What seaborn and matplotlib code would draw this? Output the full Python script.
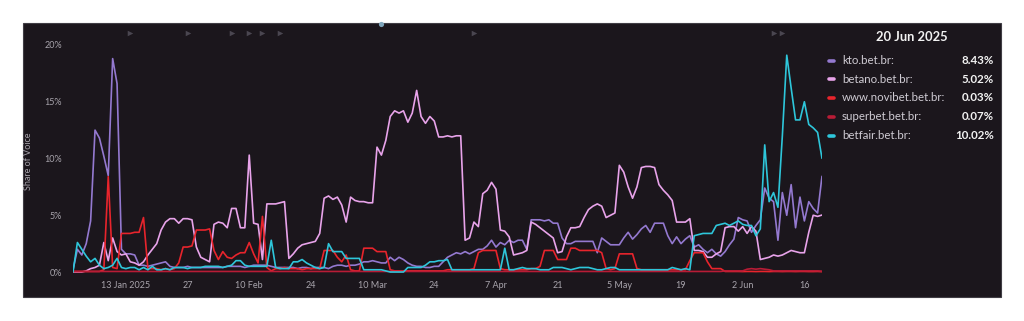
import numpy as np
import pandas as pd
import matplotlib
matplotlib.use("Agg")
import matplotlib.pyplot as plt
import matplotlib.dates as mdates
from matplotlib.patches import Rectangle
from matplotlib.lines import Line2D
import seaborn as sns

# ---------------- data ----------------
dates = pd.date_range("2025-01-01", "2025-06-20", freq="D")

sites = ["kto.bet.br", "betano.bet.br", "www.novibet.bet.br", "superbet.bet.br", "betfair.bet.br"]
colors = ["#9479d0", "#e8a3ea", "#e8242c", "#b81c36", "#2ec6da"]

kto = [
    0.2, 2.0, 1.5, 2.5, 4.5, 12.5, 11.8, 10.2, 8.5, 18.8,
    16.6, 2.0, 1.6, 1.6, 1.5, 0.6, 0.6, 0.5, 0.6, 0.7,
    0.8, 0.9, 0.5, 0.4, 0.4, 0.4, 0.5, 0.4, 0.4, 0.4,
    0.4, 0.4, 0.4, 0.4, 0.4, 0.5, 0.5, 0.5, 0.5, 0.4,
    0.5, 0.6, 0.6, 0.6, 0.6, 0.5, 0.4, 0.4, 0.4, 0.4,
    0.4, 0.3, 0.4, 0.4, 0.3, 0.4, 0.4, 0.4, 0.3, 0.5,
    0.6, 0.6, 0.5, 0.6, 0.6, 0.7, 0.9, 0.9, 1.0, 0.9,
    0.8, 0.8, 1.3, 1.0, 1.3, 1.1, 0.8, 0.6, 0.5, 0.5,
    0.4, 0.4, 0.5, 0.5, 0.9, 1.3, 1.5, 1.7, 1.6, 1.8,
    1.6, 1.8, 2.0, 2.0, 2.3, 2.8, 2.2, 2.6, 2.4, 2.8,
    2.6, 2.8, 2.8, 2.0, 4.6, 4.6, 4.6, 4.5, 4.6, 4.3,
    4.3, 3.0, 2.5, 2.5, 2.7, 2.7, 2.7, 2.7, 2.7, 1.7,
    3.0, 2.7, 2.4, 2.4, 2.4, 3.0, 3.5, 2.9, 3.3, 3.8,
    4.1, 3.5, 4.3, 4.3, 4.3, 3.2, 2.5, 3.1, 2.5, 2.9,
    3.2, 2.2, 2.4, 2.0, 1.7, 2.0, 1.6, 1.4, 1.8, 2.4,
    2.9, 4.8, 4.6, 4.5, 3.5, 4.1, 4.6, 7.4, 6.5, 6.2,
    2.8, 7.0, 5.0, 7.7, 3.9, 6.6, 4.5, 6.2, 5.6, 5.2,
    8.43,
]

betano = [
    0.0, 0.0, 0.0, 0.1, 0.3, 0.4, 0.6, 2.6, 1.0, 3.0,
    1.8, 1.5, 1.6, 0.9, 0.8, 0.6, 0.9, 1.5, 2.0, 2.5,
    3.7, 4.4, 4.7, 4.7, 4.3, 4.7, 4.7, 4.6, 2.2, 1.3,
    1.1, 0.9, 4.2, 4.4, 4.3, 3.9, 5.6, 5.6, 3.9, 3.9,
    10.3, 4.3, 4.2, 1.1, 6.0, 6.0, 6.0, 6.1, 6.2, 1.2,
    1.6, 2.1, 2.4, 2.5, 2.6, 2.7, 3.4, 6.5, 6.7, 6.4,
    6.6, 5.9, 4.4, 6.6, 6.3, 6.2, 6.2, 6.1, 6.1, 11.0,
    10.3, 11.6, 13.7, 14.2, 14.0, 14.2, 13.2, 14.0, 16.0, 13.7,
    13.1, 13.7, 13.3, 11.9, 11.9, 12.0, 11.9, 12.0, 12.0, 2.8,
    3.0, 4.4, 4.0, 6.9, 7.2, 7.9, 7.3, 3.7, 3.6, 3.1,
    1.5, 1.6, 1.7, 1.9, 4.4, 4.2, 3.9, 3.6, 3.3, 3.0,
    1.7, 1.8, 3.1, 3.9, 3.9, 4.0, 4.8, 5.5, 5.8, 6.0,
    5.8, 4.8, 5.0, 5.2, 9.4, 8.8, 7.5, 6.5, 7.5, 9.2,
    9.3, 9.3, 9.2, 7.7, 7.2, 6.8, 6.3, 4.4, 4.4, 4.4,
    4.7, 1.9, 1.9, 1.8, 1.3, 1.3, 1.6, 1.8, 3.9, 4.0,
    4.0, 3.6, 4.0, 3.4, 4.0, 3.6, 1.1, 1.2, 1.3, 1.5,
    1.4, 1.5, 1.7, 1.9, 1.8, 1.7, 1.7, 3.5, 5.0, 4.9,
    5.02,
]

novibet = [
    0.05, 0.05, 0.05, 0.05, 0.05, 0.05, 0.05, 0.2, 8.4, 0.4,
    0.3, 3.4, 3.4, 3.4, 3.5, 3.5, 4.8, 0.3, 0.3, 0.3,
    0.2, 0.3, 0.2, 0.3, 0.8, 2.2, 2.2, 2.3, 3.7, 3.7,
    3.7, 3.8, 1.9, 1.1, 1.8, 1.3, 1.2, 1.5, 1.7, 1.7,
    2.6, 1.6, 0.8, 4.9, 0.4, 0.1, 0.3, 0.3, 0.4, 0.3,
    0.3, 0.3, 0.2, 0.3, 0.3, 0.3, 0.3, 1.9, 1.9, 1.9,
    1.3, 0.9, 1.5, 0.2, 0.1, 0.1, 2.1, 2.1, 2.1, 1.8,
    1.8, 1.8, 0.2, 0.1, 0.1, 0.1, 0.1, 0.1, 0.1, 0.1,
    0.1, 0.1, 0.1, 0.1, 0.1, 0.2, 0.2, 0.2, 0.2, 0.2,
    0.2, 0.3, 1.7, 1.9, 1.9, 1.9, 1.9, 0.3, 0.2, 0.2,
    0.2, 0.2, 0.2, 0.2, 0.3, 0.3, 0.5, 1.9, 1.9, 1.9,
    1.1, 1.1, 1.1, 2.1, 2.1, 1.9, 1.9, 1.9, 1.9, 1.9,
    1.7, 0.3, 0.2, 0.3, 1.6, 1.6, 1.6, 1.6, 0.3, 0.2,
    0.2, 0.2, 0.2, 0.2, 0.2, 0.2, 0.2, 0.2, 0.2, 0.2,
    1.0, 1.7, 1.7, 1.7, 0.9, 0.3, 0.3, 0.3, 0.05, 0.05,
    0.05, 0.05, 0.04, 0.05, 0.05, 0.04, 0.05, 0.05, 0.04, 0.05,
    0.05, 0.04, 0.05, 0.05, 0.04, 0.05, 0.05, 0.04, 0.04, 0.05,
    0.03,
]

superbet = [
    0.05, 0.05, 0.05, 0.05, 0.05, 0.05, 0.05, 0.05, 0.05, 0.05,
    0.05, 0.05, 0.05, 0.05, 0.05, 0.05, 0.05, 0.05, 0.05, 0.05,
    0.05, 0.05, 0.05, 0.05, 0.05, 0.05, 0.05, 0.05, 0.05, 0.05,
    0.05, 0.05, 0.05, 0.05, 0.05, 0.05, 0.05, 0.05, 0.05, 0.05,
    0.05, 0.05, 0.05, 0.05, 0.05, 0.05, 0.05, 0.05, 0.05, 0.05,
    0.05, 0.05, 0.05, 0.05, 0.05, 0.05, 0.05, 0.05, 0.05, 0.05,
    0.05, 0.05, 0.05, 0.05, 0.05, 0.05, 0.05, 0.05, 0.05, 0.05,
    0.05, 0.05, 0.05, 0.05, 0.05, 0.05, 0.05, 0.05, 0.05, 0.05,
    0.05, 0.05, 0.05, 0.05, 0.05, 0.05, 0.05, 0.05, 0.05, 0.05,
    0.05, 0.05, 0.05, 0.05, 0.05, 0.05, 0.05, 0.05, 0.05, 0.05,
    0.05, 0.05, 0.05, 0.05, 0.05, 0.05, 0.05, 0.05, 0.05, 0.05,
    0.05, 0.05, 0.05, 0.05, 0.05, 0.05, 0.05, 0.05, 0.05, 0.05,
    0.05, 0.05, 0.05, 0.05, 0.05, 0.05, 0.05, 0.05, 0.05, 0.05,
    0.05, 0.05, 0.05, 0.05, 0.05, 0.05, 0.05, 0.05, 0.05, 0.05,
    0.05, 0.05, 0.05, 0.05, 0.05, 0.05, 0.05, 0.05, 0.1, 0.1,
    0.1, 0.1, 0.1, 0.25, 0.3, 0.25, 0.3, 0.25, 0.2, 0.1,
    0.1, 0.1, 0.1, 0.1, 0.1, 0.1, 0.1, 0.1, 0.1, 0.1,
    0.07,
]

betfair = [
    0.0, 2.6, 2.0, 1.4, 0.9, 1.2, 0.6, 0.3, 0.4, 0.6,
    1.2, 0.4, 0.3, 0.4, 0.4, 0.2, 0.4, 0.2, 0.5, 0.2,
    0.2, 0.3, 0.2, 0.4, 0.4, 0.4, 0.3, 0.4, 0.4, 0.4,
    0.5, 0.5, 0.5, 0.5, 0.4, 0.5, 0.6, 1.0, 1.0, 0.6,
    0.5, 0.5, 0.5, 0.5, 0.5, 2.8, 0.4, 0.3, 0.3, 0.3,
    0.9, 0.9, 1.1, 0.8, 0.6, 0.4, 0.3, 0.4, 2.5, 1.8,
    1.8, 1.8, 1.2, 1.2, 1.2, 1.2, 0.2, 0.2, 0.2, 0.2,
    0.2, 0.1, 0.0, 0.0, 0.0, 0.0, 0.4, 0.4, 0.4, 0.4,
    0.6, 0.9, 0.9, 1.0, 1.0, 1.1, 0.2, 0.2, 0.2, 0.2,
    0.2, 0.2, 0.2, 0.2, 0.2, 0.2, 0.2, 0.2, 2.1, 0.2,
    0.2, 0.3, 0.4, 0.3, 0.3, 0.3, 0.2, 0.2, 0.2, 0.4,
    0.4, 0.4, 0.3, 0.2, 0.3, 0.4, 0.4, 0.4, 0.3, 0.2,
    0.2, 0.3, 0.4, 0.4, 0.2, 0.2, 0.2, 0.2, 0.2, 0.2,
    0.2, 0.2, 0.2, 0.2, 0.2, 0.2, 0.4, 0.3, 0.2, 0.3,
    0.2, 3.2, 3.3, 3.4, 3.4, 3.4, 4.1, 4.2, 4.3, 4.1,
    4.3, 4.5, 4.2, 4.1, 4.1, 3.2, 3.8, 11.2, 6.2, 7.0,
    5.7, 12.0, 19.1, 16.2, 13.4, 13.4, 15.0, 13.0, 12.7, 12.3,
    10.02,
]

xtick_dates = ["2025-01-13", "2025-01-27", "2025-02-10", "2025-02-24", "2025-03-10", "2025-03-24",
               "2025-04-07", "2025-04-21", "2025-05-05", "2025-05-19", "2025-06-02", "2025-06-16"]
xtick_labels = ["13 Jan 2025", "27", "10 Feb", "24", "10 Mar", "24", "7 Apr", "21", "5 May", "19", "2 Jun", "16"]
ytick_values = [0, 5, 10, 15, 20]
ytick_labels = ["0%", "5%", "10%", "15%", "20%"]
flag_dates = ["2025-01-14", "2025-01-27", "2025-02-06", "2025-02-10", "2025-02-13", "2025-02-17",
              "2025-04-02", "2025-06-09", "2025-06-11"]
dot_date = "2025-03-12"
legend_title = "20 Jun 2025"

# ---------------- style ----------------
BG = "#1b161c"
TICK = "#a8a4ac"
W, H = 1024, 321

sns.set_theme(style="dark")
plt.rcParams["font.family"] = ["Lato", "DejaVu Sans"]

series = [kto, betano, novibet, superbet, betfair]
df = pd.concat(
    [pd.DataFrame({"date": dates, "value": vals, "site": name}) for name, vals in zip(sites, series)],
    ignore_index=True,
)

fig = plt.figure(figsize=(W / 100, H / 100), dpi=100, facecolor="white")
panel = Rectangle((23 / W, 1 - 297 / H), (1001 - 23) / W, (297 - 23) / H,
                  transform=fig.transFigure, facecolor=BG, edgecolor="#403d44",
                  lw=0.8, zorder=-10)
fig.patches.append(panel)

ax_bottom, ax_top = 277.7, 39.3
ax = fig.add_axes([73 / W, 1 - ax_bottom / H, (822 - 73) / W, (ax_bottom - ax_top) / H])
ax.set_zorder(5)
ax.patch.set_alpha(0.0)

sns.lineplot(data=df, x="date", y="value", hue="site", hue_order=sites,
             palette=dict(zip(sites, colors)), linewidth=1.2, legend=False, ax=ax)

ax.set_xlim(dates[0], dates[-1])
ax.set_ylim(-0.5, 20.5)
ax.set_yticks(ytick_values)
ax.set_yticklabels(ytick_labels)
ax.set_xticks(pd.to_datetime(xtick_dates))
ax.set_xticklabels(xtick_labels)
ax.tick_params(axis="both", length=0, colors=TICK, labelsize=6.5)
ax.tick_params(axis="y", pad=8)
ax.tick_params(axis="x", pad=2.5)
for s in ax.spines.values():
    s.set_visible(False)
ax.grid(False)
ax.set_xlabel("")
ax.set_ylabel("Share of Voice", color=TICK, fontsize=6.5)
ax.yaxis.set_label_coords(-40 / 749, 0.49)

# annotation flags along the top
ax.scatter(mdates.date2num(pd.to_datetime(flag_dates)), [1.026] * len(flag_dates),
           transform=ax.get_xaxis_transform(), marker=">", s=16, color="#4a4650",
           clip_on=False, zorder=3, linewidths=0)
ax.scatter(mdates.date2num(pd.to_datetime([dot_date])), [1.066],
           transform=ax.get_xaxis_transform(), marker="o", s=14, color="#7fa6bc",
           clip_on=False, zorder=3, linewidths=0)

# custom legend panel
fig.text(912 / W, 1 - 37 / H, legend_title, ha="center", va="center", color="#f2f2f2",
         fontsize=9.3, fontweight="bold")
row_y = [60.7, 79.3, 97.9, 116.7, 135.7]
for name, col, vals, ry in zip(sites, colors, series, row_y):
    yf = 1 - ry / H
    fig.add_artist(Line2D([829 / W, 834 / W], [yf, yf], transform=fig.transFigure,
                          color=col, lw=2.6, solid_capstyle="round"))
    fig.text(842 / W, yf, name + ":", ha="left", va="center", color="#cfcbd3", fontsize=8.3)
    fig.text(994 / W, yf, f"{vals[-1]:.2f}%", ha="right", va="center", color="#f2f2f2",
             fontsize=8.3, fontweight="bold")

fig.savefig("out.png", dpi=100, facecolor="white")
